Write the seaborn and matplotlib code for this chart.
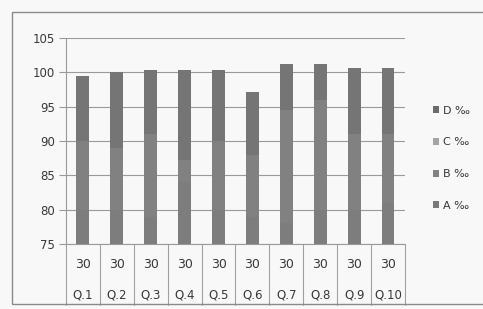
import matplotlib
matplotlib.use("Agg")
import matplotlib.pyplot as plt
import seaborn as sns
import pandas as pd
import numpy as np
from matplotlib.patches import Rectangle, Patch
from matplotlib.lines import Line2D

categories = ["Q.1", "Q.2", "Q.3", "Q.4", "Q.5", "Q.6", "Q.7", "Q.8", "Q.9", "Q.10"]
table_row = [30, 30, 30, 30, 30, 30, 30, 30, 30, 30]
A = [58, 60, 55, 62, 57, 54, 52, 56, 59, 61]
B = [22, 20, 24, 22, 23, 25, 26, 24, 21, 20]
C = [10, 9, 12, 3.3, 10, 9, 16.5, 16, 11, 10]
D = [9.4, 11.1, 9.3, 13, 10.3, 9.1, 6.7, 5.2, 9.7, 9.7]
series_names = ["A ‰", "B ‰", "C ‰", "D ‰"]
yticks = [75, 80, 85, 90, 95, 100, 105]

colors = {"A ‰": "#7a7a7a", "B ‰": "#7d7d7d", "C ‰": "#818181", "D ‰": "#757575"}
legend_colors = {"A ‰": "#7a7a7a", "B ‰": "#828282", "C ‰": "#a4a4a4", "D ‰": "#6c6c6c"}

sns.set_style("white")
plt.rcParams["font.family"] = ["DejaVu Sans"]

df = pd.DataFrame({"cat": categories, "A ‰": A, "B ‰": B, "C ‰": C, "D ‰": D})
cum = df[series_names].cumsum(axis=1)

bg = "#f9f8f8"
fig = plt.figure(figsize=(4.83, 3.09), dpi=100, facecolor=bg)
ax = fig.add_axes([0.1366, 0.2104, 0.7019, 0.6666])
ax.set_facecolor(bg)

for name in reversed(series_names):
    sns.barplot(x=df["cat"], y=cum[name], color=colors[name], width=0.38,
                saturation=1, ax=ax, zorder=3, order=categories,
                linewidth=0, edgecolor="none")

ax.set_ylim(75, 105)
ax.set_xlim(-0.5, len(categories) - 0.5)
ax.set_yticks(yticks)
ax.set_yticklabels([str(t) for t in yticks], fontsize=8.5, color="#383838")
ax.yaxis.grid(True, color="#9a9a9a", linewidth=0.8, zorder=0)
ax.set_axisbelow(True)
ax.tick_params(axis="y", length=5, color="#9a9a9a", width=0.8, pad=3, left=True)
ax.tick_params(axis="x", bottom=False, labelbottom=False)
ax.set_xlabel("")
ax.set_ylabel("")
for s in ["top", "right", "bottom"]:
    ax.spines[s].set_visible(False)
ax.spines["left"].set_color("#9a9a9a")
ax.spines["left"].set_linewidth(0.8)

# data table below the plot
tr = ax.get_xaxis_transform()
row1_y, row2_y, bottom_y = -0.102, -0.248, -0.296
for i, (c, v) in enumerate(zip(categories, table_row)):
    ax.text(i, row1_y, str(v), transform=tr, ha="center", va="center",
            fontsize=9, color="#383838", clip_on=False)
    ax.text(i, row2_y, c, transform=tr, ha="center", va="center",
            fontsize=8.5, color="#383838", clip_on=False)
for b in np.arange(-0.5, len(categories), 1.0):
    ax.add_line(Line2D([b, b], [0, bottom_y], transform=tr, color="#a0a0a0",
                       linewidth=0.8, clip_on=False))
ax.add_line(Line2D([-0.5, len(categories) - 0.5], [0, 0], transform=tr,
                   color="#9a9a9a", linewidth=0.8, clip_on=False))

# outer chart border
fig.add_artist(Rectangle((0.025, 0.016), 0.98, 0.945, transform=fig.transFigure,
                         fill=False, edgecolor="#8a8a8a", linewidth=1.0))

handles = [Patch(facecolor=legend_colors[n], edgecolor="none", label=n)
           for n in reversed(series_names)]
fig.legend(handles=handles, loc="upper left", bbox_to_anchor=(0.875, 0.69),
           frameon=False, fontsize=8, handlelength=0.6, handleheight=0.6,
           handletextpad=0.35, labelspacing=1.95, labelcolor="#383838")

fig.savefig("out.png", dpi=100, facecolor=bg)
